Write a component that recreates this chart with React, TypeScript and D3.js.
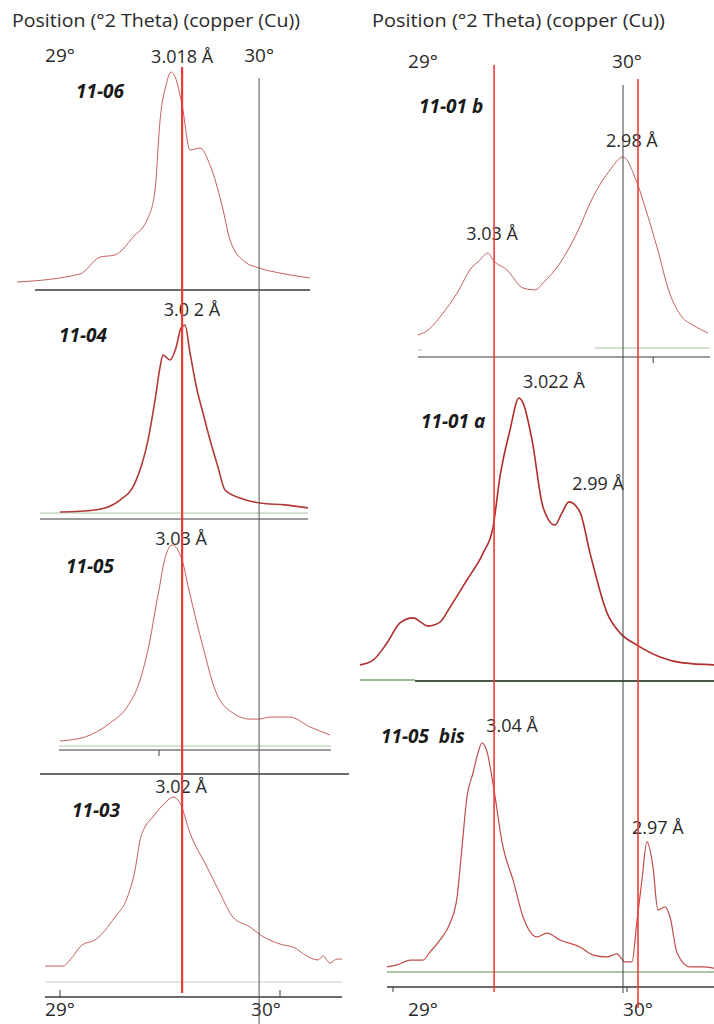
import React from 'react';
import * as d3 from 'd3';

const titleText = 'Position (°2 Theta) (copper (Cu))';

// [2θ in degrees, relative intensity in %]
const s1106: [number, number][] = [
  [28.805, 1.4], [29.091, 5.2], [29.182, 13.1], [29.25, 14.1], [29.332, 22.5], [29.4, 31.5],
  [29.432, 44.6], [29.455, 77.5], [29.482, 93.9], [29.505, 100], [29.523, 97.7], [29.555, 84.5],
  [29.591, 63.4], [29.636, 64.3], [29.682, 56.3], [29.736, 37.6], [29.773, 21.1], [29.841, 10.8],
  [29.905, 8], [30.0, 5.6], [30.136, 3.3],
];
const s1104: [number, number][] = [
  [29.0, 0.5], [29.159, 1.6], [29.273, 6.9], [29.341, 16], [29.4, 38.8], [29.432, 60.1],
  [29.455, 77.7], [29.468, 84], [29.5, 81.4], [29.527, 87.8], [29.55, 98.4], [29.568, 100],
  [29.591, 85.1], [29.623, 65.4], [29.65, 53.2], [29.682, 38.8], [29.718, 24.5], [29.75, 12.2],
  [29.818, 8], [29.909, 5.3], [30.023, 4.3], [30.127, 2.7],
];
const s1105: [number, number][] = [
  [29.0, 2.5], [29.114, 4.5], [29.227, 11.4], [29.305, 19.4], [29.364, 32.8], [29.409, 52.7],
  [29.441, 72.6], [29.45, 77.6], [29.468, 89], [29.509, 100], [29.555, 92.5], [29.586, 77.6],
  [29.65, 49.3], [29.705, 27.9], [29.786, 16.4], [29.864, 13.4], [29.905, 13.4], [29.955, 14.4],
  [30.045, 14.4], [30.136, 9.5], [30.227, 5.5],
];
const s1103: [number, number][] = [
  [28.932, 8.6], [29.014, 8.6], [29.045, 11.9], [29.1, 20], [29.159, 22.7], [29.25, 35.1],
  [29.305, 45.4], [29.341, 60.5], [29.364, 76.8], [29.386, 83.8], [29.418, 88.6], [29.477, 96.8],
  [29.514, 100], [29.545, 96.8], [29.591, 80.5], [29.668, 62.2], [29.727, 48.1], [29.786, 35.1],
  [29.864, 29.7], [29.918, 24.9], [30.0, 20.5], [30.068, 18.4], [30.114, 14.6], [30.173, 11.9],
  [30.195, 14.1], [30.227, 10.3], [30.259, 12.4], [30.282, 12.4],
];
const s1101b: [number, number][] = [
  [29.107, 6.8], [29.15, 9.4], [29.214, 18.3], [29.274, 28.8], [29.338, 42.4], [29.363, 45],
  [29.406, 49.7], [29.427, 46.1], [29.487, 40.8], [29.556, 31.4], [29.607, 30.4], [29.641, 34],
  [29.714, 44.5], [29.786, 60.2], [29.855, 79.1], [29.927, 93.2], [29.983, 100], [30.043, 86.4],
  [30.085, 70.7], [30.128, 52.9], [30.182, 28.8], [30.235, 16.2], [30.282, 12], [30.346, 7.9],
];
const s1101a: [number, number][] = [
  [28.859, 5.7], [28.915, 7.4], [28.974, 13.4], [29.03, 20.5], [29.085, 22.3], [29.15, 19.4],
  [29.201, 20.8], [29.244, 26.1], [29.316, 35.7], [29.385, 45.2], [29.427, 54.1], [29.457, 72.1],
  [29.5, 88.7], [29.538, 100], [29.556, 98.2], [29.594, 85.2], [29.641, 61.5], [29.692, 55.1],
  [29.722, 59.4], [29.752, 63.3], [29.799, 59.7], [29.842, 45.2], [29.915, 24], [29.97, 17],
  [30.043, 12.7], [30.141, 8.5], [30.239, 6.4], [30.372, 5.7],
];
const s1105bis: [number, number][] = [
  [28.974, 2.2], [29.017, 3.1], [29.073, 5.2], [29.128, 5.2], [29.158, 8.7], [29.201, 14],
  [29.244, 21.4], [29.274, 32.8], [29.295, 54.6], [29.316, 76.4], [29.342, 86.9], [29.363, 95.6],
  [29.38, 100], [29.402, 96.1], [29.427, 82.5], [29.47, 54.6], [29.513, 40.2], [29.556, 24],
  [29.615, 15.3], [29.658, 17], [29.714, 14], [29.799, 10.9], [29.855, 7.4], [29.915, 6.6],
  [29.957, 7.9], [29.991, 4.4], [30.021, 4.4], [30.043, 22.7], [30.064, 40.2], [30.085, 56.8],
  [30.111, 45.9], [30.132, 27.1], [30.162, 28.4], [30.184, 24], [30.214, 8.3], [30.269, 2.2],
  [30.325, 2.2], [30.372, 1.7],
];

// peak d-spacing labels: [text, 2θ of label centre]
const peaks1106: [string, number][] = [['3.018 Å', 29.555]];
const peaks1104: [string, number][] = [['3.0 2 Å', 29.6]];
const peaks1105: [string, number][] = [['3.03 Å', 29.55]];
const peaks1103: [string, number][] = [['3.02 Å', 29.55]];
const peaks1101b: [string, number][] = [['3.03 Å', 29.423], ['2.98 Å', 30.021]];
const peaks1101a: [string, number][] = [['3.022 Å', 29.688], ['2.99 Å', 29.876]];
const peaks1105bis: [string, number][] = [['3.04 Å', 29.509], ['2.97 Å', 30.132]];

const tickDegrees = [29, 30];
const leftRed = [29.555];
const leftBlack = [29.905];
const rightRed = [29.432, 30.047];
const rightBlack = [29.983];

const W = 714;
const H = 1024;
const xL = d3.scaleLinear().domain([29, 30]).range([60, 280]);
const xR = d3.scaleLinear().domain([29, 30]).range([393, 627]);

const curveCol = '#c4605c';
const redCol = '#ee3b37';
const greenCol = '#a9c6a2';
const axisCol = '#3a3a3a';
const textCol = '#2a2a2a';
const font = "'Open Sans', 'Noto Sans', sans-serif";

type Panel = {
  name: string; data: [number, number][]; peaks: [string, number][]; x: d3.ScaleLinear<number, number>;
  base: number; top: number; nameX: number; nameY: number; peakY: number[];
  width: number; color: string;
};

const panels: Panel[] = [
  { name: '11-06', data: s1106, peaks: peaks1106, x: xL, base: 285, top: 72, nameX: 76, nameY: 98, peakY: [63], width: 1, color: curveCol },
  { name: '11-04', data: s1104, peaks: peaks1104, x: xL, base: 513, top: 325, nameX: 59, nameY: 342, peakY: [316], width: 1.6, color: '#b23a36' },
  { name: '11-05', data: s1105, peaks: peaks1105, x: xL, base: 746, top: 545, nameX: 66, nameY: 573, peakY: [545], width: 1, color: curveCol },
  { name: '11-03', data: s1103, peaks: peaks1103, x: xL, base: 982, top: 797, nameX: 72, nameY: 817, peakY: [793], width: 1, color: curveCol },
  { name: '11-01 b', data: s1101b, peaks: peaks1101b, x: xR, base: 348, top: 157, nameX: 419, nameY: 113, peakY: [240, 147], width: 1, color: curveCol },
  { name: '11-01 a', data: s1101a, peaks: peaks1101a, x: xR, base: 681, top: 398, nameX: 421, nameY: 428, peakY: [388, 490], width: 1.6, color: '#b02e2c' },
  { name: '11-05  bis', data: s1105bis, peaks: peaks1105bis, x: xR, base: 972, top: 743, nameX: 381, nameY: 743, peakY: [732, 834], width: 1.2, color: '#c04c48' },
];

function Trace({ p }: { p: Panel }) {
  const y = d3.scaleLinear().domain([0, 100]).range([p.base, p.top]);
  const line = d3.line<[number, number]>().x(d => p.x(d[0])).y(d => y(d[1])).curve(d3.curveMonotoneX);
  return (
    <g>
      <path d={line(p.data) || ''} fill="none" stroke={p.color} strokeWidth={p.width} strokeLinejoin="round" />
      <text x={p.nameX} y={p.nameY} fontFamily={font} fontSize={19} fontWeight="bold" fontStyle="italic" fill="#1a1a1a" style={{ whiteSpace: 'pre' }}>{p.name}</text>
      {p.peaks.map((pk, i) => (
        <text key={i} x={p.x(pk[1])} y={p.peakY[i]} textAnchor="middle" fontFamily={font} fontSize={18} fill={textCol}>{pk[0]}</text>
      ))}
    </g>
  );
}

function HLine({ x1, x2, y, color, w }: { x1: number; x2: number; y: number; color: string; w: number }) {
  return <line x1={x1} x2={x2} y1={y} y2={y} stroke={color} strokeWidth={w} />;
}

function Deg({ x, y, t }: { x: number; y: number; t: number }) {
  return <text x={x} y={y} textAnchor="middle" fontFamily={font} fontSize={19} fill={textCol}>{t}°</text>;
}

export default function App() {
  return (
    <svg width={W} height={H} style={{ position: 'absolute', left: 0, top: 0, background: '#fff' }}>
      {/* titles */}
      <text x={12} y={27} fontFamily={font} fontSize={19} fill={textCol} textLength={288} lengthAdjust="spacingAndGlyphs">{titleText}</text>
      <text x={372} y={27} fontFamily={font} fontSize={19} fill={textCol} textLength={293} lengthAdjust="spacingAndGlyphs">{titleText}</text>

      {/* top degree labels */}
      <Deg x={xL(29)} y={62} t={29} />
      <Deg x={xL(leftBlack[0])} y={62} t={30} />
      <Deg x={xR(29) + 30} y={68} t={29} />
      <Deg x={xR(30)} y={68} t={30} />

      {/* left column baselines */}
      <HLine x1={35} x2={310} y={290} color={axisCol} w={1.5} />
      <HLine x1={40} x2={308} y={513} color={greenCol} w={1} />
      <HLine x1={40} x2={308} y={519} color={axisCol} w={1.2} />
      <HLine x1={59} x2={331} y={746} color={greenCol} w={1} />
      <HLine x1={59} x2={331} y={750} color={axisCol} w={1.2} />
      <line x1={xL(29.45)} x2={xL(29.45)} y1={750} y2={756} stroke={axisCol} strokeWidth={1} />
      <HLine x1={40} x2={349} y={774} color={axisCol} w={1.5} />
      <HLine x1={45} x2={342} y={982} color="#c9d4c0" w={1.2} />
      <HLine x1={45} x2={342} y={997} color={axisCol} w={1.5} />
      {tickDegrees.map(t => (
        <g key={'lt' + t}>
          <line x1={xL(t)} x2={xL(t)} y1={990} y2={997} stroke={axisCol} strokeWidth={1} />
          <Deg x={xL(t) + (t === 30 ? -14 : 0)} y={1016} t={t} />
        </g>
      ))}

      {/* right column baselines */}
      <HLine x1={418} x2={710} y={357} color={axisCol} w={1} />
      <HLine x1={595} x2={710} y={348} color={greenCol} w={1} />
      <HLine x1={418} x2={422} y={350} color="#bbb" w={1} />
      <line x1={xR(30.112)} x2={xR(30.112)} y1={357} y2={363} stroke={axisCol} strokeWidth={1} />
      <HLine x1={360} x2={415} y={680} color="#7fa27a" w={1.5} />
      <HLine x1={415} x2={714} y={681} color="#4a5a48" w={1.8} />
      <HLine x1={387} x2={714} y={972} color={greenCol} w={2} />
      <HLine x1={387} x2={714} y={987} color={axisCol} w={1.5} />
      {tickDegrees.map(t => (
        <g key={'rt' + t}>
          <line x1={xR(t)} x2={xR(t)} y1={987} y2={992} stroke={axisCol} strokeWidth={1} />
          <Deg x={xR(t) + (t === 29 ? 30 : 11)} y={1016} t={t} />
        </g>
      ))}

      {/* traces */}
      {panels.map(p => <Trace key={p.name} p={p} />)}

      {/* reference lines */}
      {leftBlack.map(t => <line key={'lb' + t} x1={xL(t)} x2={xL(t)} y1={78} y2={1024} stroke="#555" strokeWidth={1} />)}
      {rightBlack.map(t => <line key={'rb' + t} x1={xR(t)} x2={xR(t)} y1={85} y2={993} stroke="#444" strokeWidth={1} />)}
      {leftRed.map(t => <line key={'lr' + t} x1={xL(t)} x2={xL(t)} y1={67} y2={993} stroke={redCol} strokeWidth={2.2} />)}
      {rightRed.map((t, i) => <line key={'rr' + t} x1={xR(t)} x2={xR(t)} y1={i === 0 ? 65 : 79} y2={i === 0 ? 992 : 1008} stroke={redCol} strokeWidth={1.6} />)}
    </svg>
  );
}
